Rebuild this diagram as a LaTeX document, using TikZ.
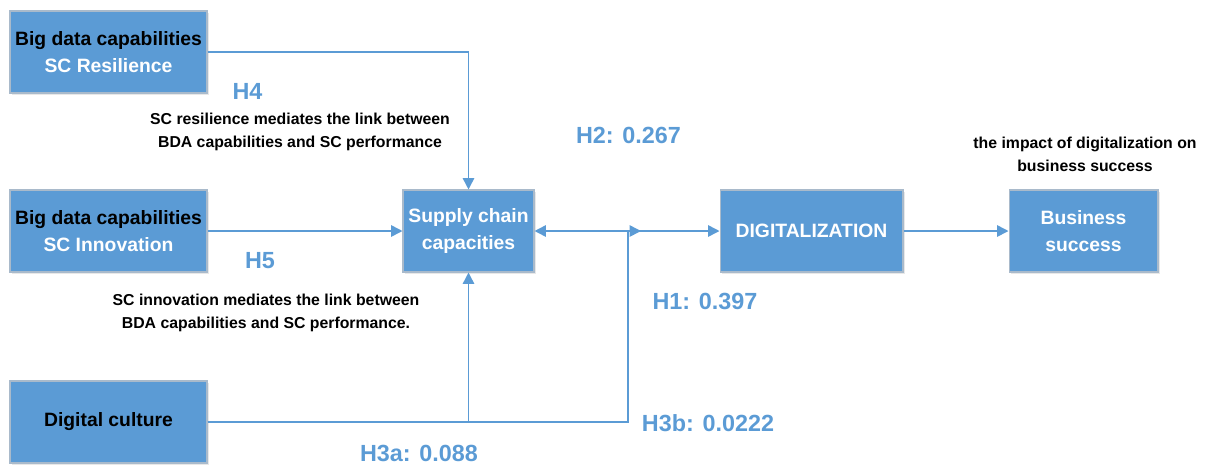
\documentclass[tikz,border=0pt]{standalone}
\usepackage{fontspec}
\setmainfont{Liberation Sans}
\usetikzlibrary{arrows.meta,shadows}
\definecolor{boxblue}{HTML}{5B9BD5}
\definecolor{boxedge}{HTML}{A9BACB}
\begin{document}
\begin{tikzpicture}[x=0.02cm,y=-0.02cm,
  block/.style={draw=boxedge,line width=0.6pt,fill=boxblue,minimum height=1.64cm,
    text=white,font=\bfseries\fontsize{11}{15}\selectfont,align=center,inner sep=0pt,
    drop shadow={opacity=0.18,shadow xshift=1.2pt,shadow yshift=-1.2pt}},
  link/.style={draw=boxblue,line width=0.9pt},
  arr/.style={-{Triangle[length=6.5pt,width=6.5pt]}},
  darr/.style={{Triangle[length=6.5pt,width=6.5pt]}-{Triangle[length=6.5pt,width=6.5pt]}},
  hyp/.style={text=boxblue,font=\bfseries\fontsize{13.3}{16}\selectfont,inner sep=0pt},
  note/.style={font=\bfseries\fontsize{9}{13}\selectfont,align=center,inner sep=0pt}]
\useasboundingbox (0,0) rectangle (1209,467);

% boxes
\node[block,minimum width=3.94cm] (res) at (108.5,52) {{\color{black}Big data capabilities}\\SC Resilience};
\node[block,minimum width=3.94cm] (inn) at (108.5,231) {{\color{black}Big data capabilities}\\SC Innovation};
\node[block,minimum width=3.94cm] (cul) at (108.5,422) {\color{black}Digital culture};
\node[block,minimum width=2.62cm] (sup) at (468.5,231) {Supply chain\\capacities};
\node[block,minimum width=3.66cm] (dig) at (811.5,231) {DIGITALIZATION};
\node[block,minimum width=2.98cm] (bus) at (1083.5,231) {Business\\success};

% connectors
\coordinate (knee) at (628,231);
\coordinate (tip) at (641,231);
\draw[link,arr] (res.east) -| (sup.north);
\draw[link,arr] (inn.east) -- (sup.west);
\draw[link,arr] (cul.east) -| (sup.south);
\draw[link,arr] (cul.east) -| (knee) -- (tip);
\draw[link,darr] (sup.east) -- (dig.west);
\draw[link,arr] (dig.east) -- (bus.west);

% labels
\node[hyp] (h4) at (247.5,91.5) {H4};
\node[note] (n4) at (300,132) {SC resilience mediates the link between\\BDA capabilities and SC performance};
\node[hyp] (h2) at (628.5,135) {H2: 0.267};
\node[note] (nb) at (1085,154.5) {the impact of digitalization on\\business success};
\node[hyp] (h5) at (260,261) {H5};
\node[note] (n5) at (266,313) {SC innovation mediates the link between\\BDA capabilities and SC performance.};
\node[hyp] (h1) at (705,301) {H1: 0.397};
\node[hyp] (h3a) at (419,453) {H3a: 0.088};
\node[hyp] (h3b) at (708,423) {H3b: 0.0222};
\end{tikzpicture}
\end{document}
